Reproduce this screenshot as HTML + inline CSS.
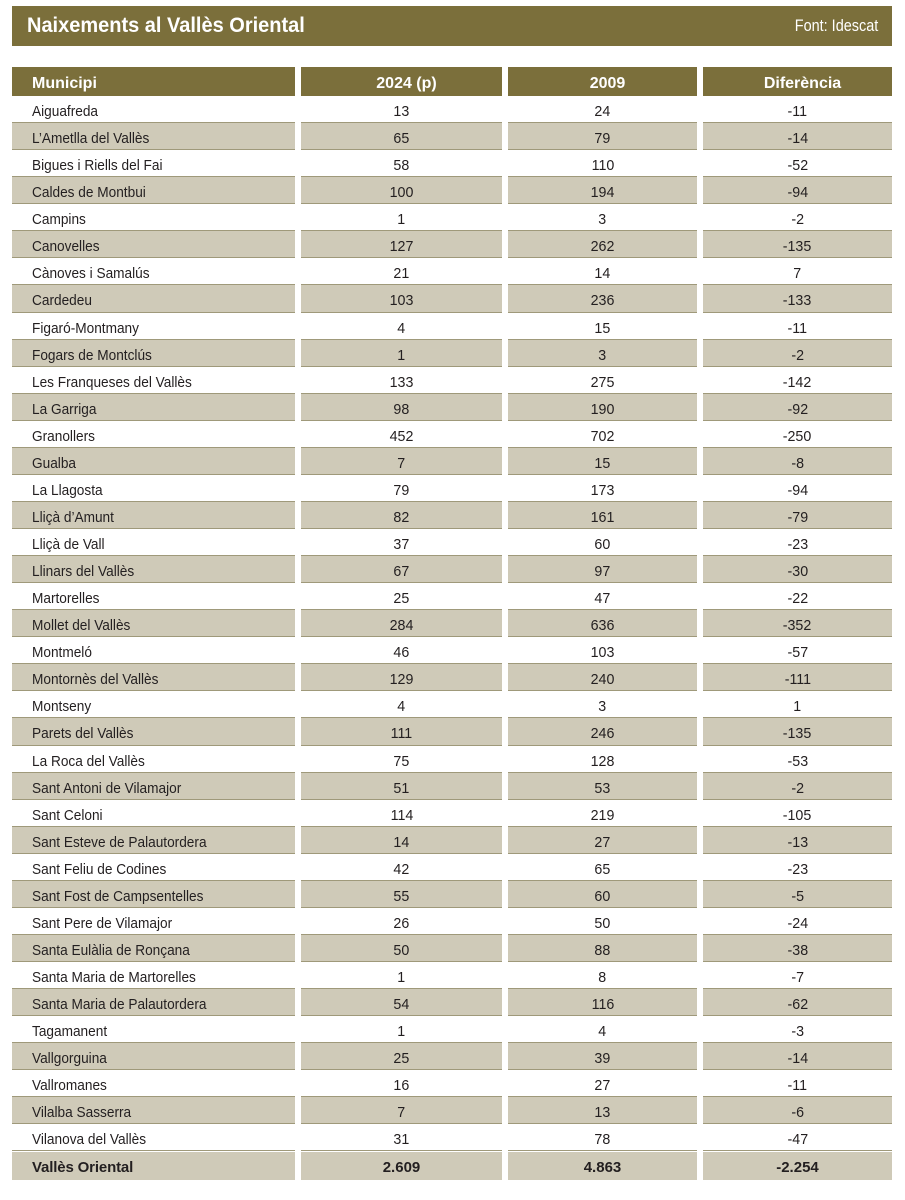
<!DOCTYPE html>
<html>
<head>
<meta charset="utf-8">
<style>
  html,body{margin:0;padding:0;background:#fff;}
  body{width:905px;height:1200px;position:relative;overflow:hidden;font-family:"Liberation Sans",Arial,sans-serif;color:#231f20;}
  .title{position:absolute;left:12px;top:6px;width:880px;height:40px;background:#7b6f3b;}
  .title .t{position:absolute;left:15px;top:0;line-height:40px;font-size:21px;font-weight:bold;color:#fff;transform:scaleX(0.952);transform-origin:left center;white-space:nowrap;}
  .title .f{position:absolute;right:14px;top:0;line-height:40px;font-size:17px;color:#fff;transform:scaleX(0.85);transform-origin:right center;white-space:nowrap;}
  .hdr{position:absolute;top:67px;left:0;width:905px;height:29px;}
  .hdr .c{background:#7b6f3b;color:#fff;font-weight:bold;font-size:16px;height:29px;line-height:29px;padding-top:2px;box-sizing:border-box;}
  .hdr .n{padding-left:10px;}
  .body{position:absolute;top:96px;left:0;width:905px;}
  .r{position:relative;height:27.077px;width:905px;}
  .c{position:absolute;top:0;height:100%;box-sizing:border-box;white-space:nowrap;}
  .r .c{border-bottom:1px solid #9f997a;font-size:15px;line-height:27px;padding-top:2px;}
  .c1{left:12px;width:283px;padding-left:20px;}
  .c2{left:301px;width:201px;text-align:center;}
  .c3{left:508px;width:189px;text-align:center;}
  .c4{left:703px;width:189px;text-align:center;}
  .r .c span{display:inline-block;transform:scaleX(0.95);transform-origin:center center;}
  .r .c1 span{transform:scaleX(0.91);transform-origin:left center;}
  .s .c{background:#cfcab8;}
  .tot{position:absolute;top:1152px;left:0;width:905px;height:28px;}
  .tot .c{background:#cfcab8;font-weight:bold;font-size:15px;line-height:28px;padding-top:2px;}
  .tot .c1 span{letter-spacing:-0.15px;}
</style>
</head>
<body>
<div class="title"><div class="t">Naixements al Vallès Oriental</div><div class="f">Font: Idescat</div></div>

<div class="hdr">
  <div class="c c1">Municipi</div>
  <div class="c c2 n">2024 (p)</div>
  <div class="c c3 n">2009</div>
  <div class="c c4 n">Diferència</div>
</div>

<div class="body">
<div class="r"><div class="c c1"><span>Aiguafreda</span></div><div class="c c2"><span>13</span></div><div class="c c3"><span>24</span></div><div class="c c4"><span>-11</span></div></div>
<div class="r s"><div class="c c1"><span>L’Ametlla del Vallès</span></div><div class="c c2"><span>65</span></div><div class="c c3"><span>79</span></div><div class="c c4"><span>-14</span></div></div>
<div class="r"><div class="c c1"><span>Bigues i Riells del Fai</span></div><div class="c c2"><span>58</span></div><div class="c c3"><span>110</span></div><div class="c c4"><span>-52</span></div></div>
<div class="r s"><div class="c c1"><span>Caldes de Montbui</span></div><div class="c c2"><span>100</span></div><div class="c c3"><span>194</span></div><div class="c c4"><span>-94</span></div></div>
<div class="r"><div class="c c1"><span>Campins</span></div><div class="c c2"><span>1</span></div><div class="c c3"><span>3</span></div><div class="c c4"><span>-2</span></div></div>
<div class="r s"><div class="c c1"><span>Canovelles</span></div><div class="c c2"><span>127</span></div><div class="c c3"><span>262</span></div><div class="c c4"><span>-135</span></div></div>
<div class="r"><div class="c c1"><span>Cànoves i Samalús</span></div><div class="c c2"><span>21</span></div><div class="c c3"><span>14</span></div><div class="c c4"><span>7</span></div></div>
<div class="r s"><div class="c c1"><span>Cardedeu</span></div><div class="c c2"><span>103</span></div><div class="c c3"><span>236</span></div><div class="c c4"><span>-133</span></div></div>
<div class="r"><div class="c c1"><span>Figaró-Montmany</span></div><div class="c c2"><span>4</span></div><div class="c c3"><span>15</span></div><div class="c c4"><span>-11</span></div></div>
<div class="r s"><div class="c c1"><span>Fogars de Montclús</span></div><div class="c c2"><span>1</span></div><div class="c c3"><span>3</span></div><div class="c c4"><span>-2</span></div></div>
<div class="r"><div class="c c1"><span>Les Franqueses del Vallès</span></div><div class="c c2"><span>133</span></div><div class="c c3"><span>275</span></div><div class="c c4"><span>-142</span></div></div>
<div class="r s"><div class="c c1"><span>La Garriga</span></div><div class="c c2"><span>98</span></div><div class="c c3"><span>190</span></div><div class="c c4"><span>-92</span></div></div>
<div class="r"><div class="c c1"><span>Granollers</span></div><div class="c c2"><span>452</span></div><div class="c c3"><span>702</span></div><div class="c c4"><span>-250</span></div></div>
<div class="r s"><div class="c c1"><span>Gualba</span></div><div class="c c2"><span>7</span></div><div class="c c3"><span>15</span></div><div class="c c4"><span>-8</span></div></div>
<div class="r"><div class="c c1"><span>La Llagosta</span></div><div class="c c2"><span>79</span></div><div class="c c3"><span>173</span></div><div class="c c4"><span>-94</span></div></div>
<div class="r s"><div class="c c1"><span>Lliçà d’Amunt</span></div><div class="c c2"><span>82</span></div><div class="c c3"><span>161</span></div><div class="c c4"><span>-79</span></div></div>
<div class="r"><div class="c c1"><span>Lliçà de Vall</span></div><div class="c c2"><span>37</span></div><div class="c c3"><span>60</span></div><div class="c c4"><span>-23</span></div></div>
<div class="r s"><div class="c c1"><span>Llinars del Vallès</span></div><div class="c c2"><span>67</span></div><div class="c c3"><span>97</span></div><div class="c c4"><span>-30</span></div></div>
<div class="r"><div class="c c1"><span>Martorelles</span></div><div class="c c2"><span>25</span></div><div class="c c3"><span>47</span></div><div class="c c4"><span>-22</span></div></div>
<div class="r s"><div class="c c1"><span>Mollet del Vallès</span></div><div class="c c2"><span>284</span></div><div class="c c3"><span>636</span></div><div class="c c4"><span>-352</span></div></div>
<div class="r"><div class="c c1"><span>Montmeló</span></div><div class="c c2"><span>46</span></div><div class="c c3"><span>103</span></div><div class="c c4"><span>-57</span></div></div>
<div class="r s"><div class="c c1"><span>Montornès del Vallès</span></div><div class="c c2"><span>129</span></div><div class="c c3"><span>240</span></div><div class="c c4"><span>-111</span></div></div>
<div class="r"><div class="c c1"><span>Montseny</span></div><div class="c c2"><span>4</span></div><div class="c c3"><span>3</span></div><div class="c c4"><span>1</span></div></div>
<div class="r s"><div class="c c1"><span>Parets del Vallès</span></div><div class="c c2"><span>111</span></div><div class="c c3"><span>246</span></div><div class="c c4"><span>-135</span></div></div>
<div class="r"><div class="c c1"><span>La Roca del Vallès</span></div><div class="c c2"><span>75</span></div><div class="c c3"><span>128</span></div><div class="c c4"><span>-53</span></div></div>
<div class="r s"><div class="c c1"><span>Sant Antoni de Vilamajor</span></div><div class="c c2"><span>51</span></div><div class="c c3"><span>53</span></div><div class="c c4"><span>-2</span></div></div>
<div class="r"><div class="c c1"><span>Sant Celoni</span></div><div class="c c2"><span>114</span></div><div class="c c3"><span>219</span></div><div class="c c4"><span>-105</span></div></div>
<div class="r s"><div class="c c1"><span>Sant Esteve de Palautordera</span></div><div class="c c2"><span>14</span></div><div class="c c3"><span>27</span></div><div class="c c4"><span>-13</span></div></div>
<div class="r"><div class="c c1"><span>Sant Feliu de Codines</span></div><div class="c c2"><span>42</span></div><div class="c c3"><span>65</span></div><div class="c c4"><span>-23</span></div></div>
<div class="r s"><div class="c c1"><span>Sant Fost de Campsentelles</span></div><div class="c c2"><span>55</span></div><div class="c c3"><span>60</span></div><div class="c c4"><span>-5</span></div></div>
<div class="r"><div class="c c1"><span>Sant Pere de Vilamajor</span></div><div class="c c2"><span>26</span></div><div class="c c3"><span>50</span></div><div class="c c4"><span>-24</span></div></div>
<div class="r s"><div class="c c1"><span>Santa Eulàlia de Ronçana</span></div><div class="c c2"><span>50</span></div><div class="c c3"><span>88</span></div><div class="c c4"><span>-38</span></div></div>
<div class="r"><div class="c c1"><span>Santa Maria de Martorelles</span></div><div class="c c2"><span>1</span></div><div class="c c3"><span>8</span></div><div class="c c4"><span>-7</span></div></div>
<div class="r s"><div class="c c1"><span>Santa Maria de Palautordera</span></div><div class="c c2"><span>54</span></div><div class="c c3"><span>116</span></div><div class="c c4"><span>-62</span></div></div>
<div class="r"><div class="c c1"><span>Tagamanent</span></div><div class="c c2"><span>1</span></div><div class="c c3"><span>4</span></div><div class="c c4"><span>-3</span></div></div>
<div class="r s"><div class="c c1"><span>Vallgorguina</span></div><div class="c c2"><span>25</span></div><div class="c c3"><span>39</span></div><div class="c c4"><span>-14</span></div></div>
<div class="r"><div class="c c1"><span>Vallromanes</span></div><div class="c c2"><span>16</span></div><div class="c c3"><span>27</span></div><div class="c c4"><span>-11</span></div></div>
<div class="r s"><div class="c c1"><span>Vilalba Sasserra</span></div><div class="c c2"><span>7</span></div><div class="c c3"><span>13</span></div><div class="c c4"><span>-6</span></div></div>
<div class="r"><div class="c c1"><span>Vilanova del Vallès</span></div><div class="c c2"><span>31</span></div><div class="c c3"><span>78</span></div><div class="c c4"><span>-47</span></div></div>
</div>

<div class="tot">
  <div class="c c1"><span>Vallès Oriental</span></div>
  <div class="c c2">2.609</div>
  <div class="c c3">4.863</div>
  <div class="c c4">-2.254</div>
</div>
</body>
</html>
